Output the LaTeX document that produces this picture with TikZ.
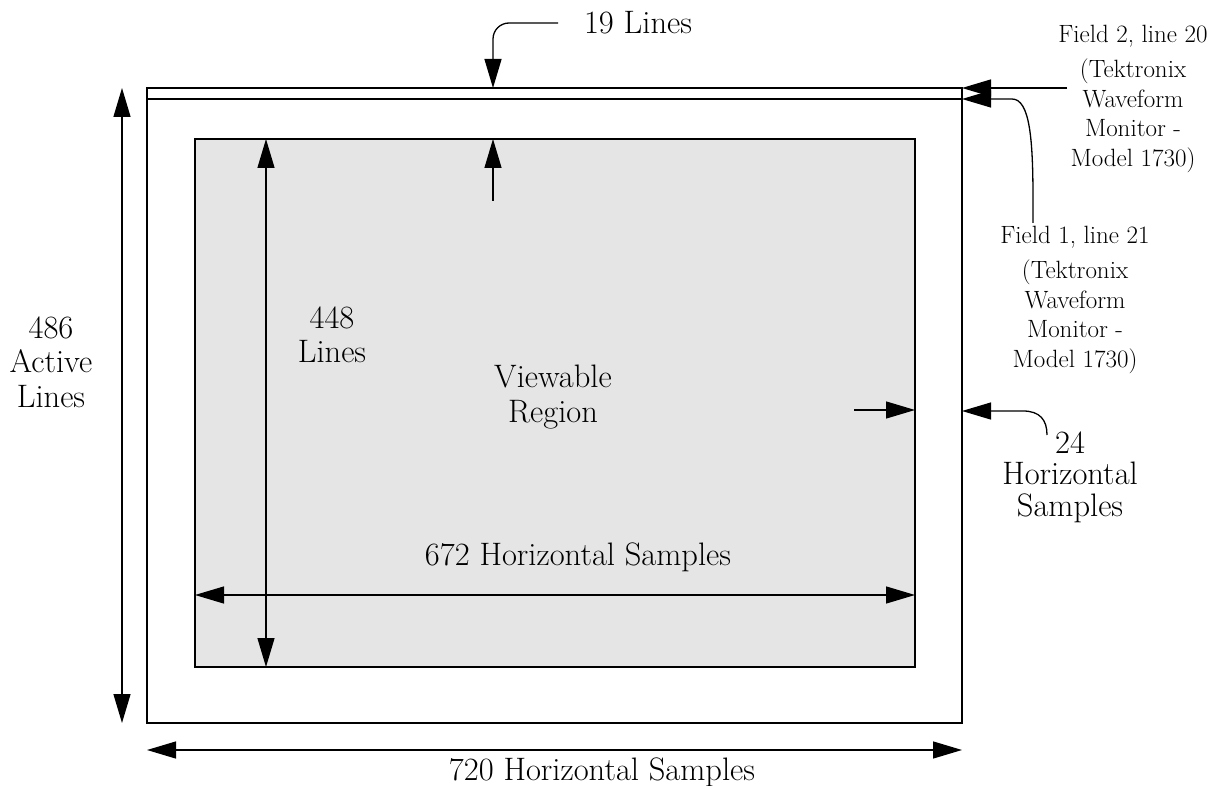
\documentclass[tikz,border=0pt]{standalone}
\usetikzlibrary{arrows.meta}
\tikzset{
  dimarrow/.style={-{Triangle[length=29pt,width=17pt]}, line width=1.3pt},
  dimboth/.style={{Triangle[length=29pt,width=17pt]}-{Triangle[length=29pt,width=17pt]}, line width=1.3pt},
  bigtext/.style={font=\fontsize{32.5}{34.5}\selectfont, align=center, inner sep=0pt},
  smalltext/.style={font=\fontsize{25}{29.5}\selectfont, align=center, inner sep=0pt}
}
\begin{document}
\begin{tikzpicture}[x=1pt, y=-1pt]
      \useasboundingbox (0,0) rectangle (1222,786);
      \node[draw, line width=1.4pt, inner sep=0pt, outer sep=0pt, minimum width=815pt, minimum height=635pt] (frame) at (554.5,405.5) {};
      \node[draw, fill=gray!20, line width=1.3pt, inner sep=0pt, outer sep=0pt, minimum width=720pt, minimum height=528pt] (view) at (555,403) {};
      \draw[line width=2.4pt] (frame.north west) -- (frame.north east);
      \draw[line width=2.4pt] ([yshift=-11pt]frame.north west) -- ([yshift=-11pt]frame.north east);
      % dimension arrows
      \draw[dimboth] ([xshift=-25pt]frame.north west) -- ([xshift=-25pt]frame.south west);
      \draw[dimboth] ([yshift=-27pt]frame.south west) -- ([yshift=-27pt]frame.south east);
      \draw[dimboth] ([xshift=71pt]view.north west) -- ([xshift=71pt]view.south west);
      \draw[dimboth] ([yshift=72pt]view.south west) -- ([yshift=72pt]view.south east);
      \coordinate (vtop) at (493,201);
      \draw[dimarrow] (vtop) -- (vtop |- view.north);
      \coordinate (vright) at (854,410);
      \draw[dimarrow] (vright) -- (vright -| view.east);
      % labels
      \node[bigtext] (lbl19) at (638,23) {19 Lines};
      \node[smalltext] (lblF2) at (1133,99) {Field 2, line 20\\[5.5pt](Tektronix\\Waveform\\Monitor -\\Model 1730)};
      \node[smalltext] (lblF1) at (1075,300) {Field 1, line 21\\[5.5pt](Tektronix\\Waveform\\Monitor -\\Model 1730)};
      \node[bigtext, font=\fontsize{32.5}{31.5}\selectfont] (lbl24) at (1070,477) {24\\Horizontal\\Samples};
      \node[bigtext] (lbl486) at (51,362) {486\\Active\\Lines};
      \node[bigtext] (lbl448) at (332,335) {448\\Lines};
      \node[bigtext] (lblView) at (553,397) {Viewable\\Region};
      \node[bigtext] (lbl672) at (578,557) {672 Horizontal Samples};
      \node[bigtext] (lbl720) at (602,772) {720 Horizontal Samples};
      % callouts
      \coordinate (c19) at (558,23);
      \draw[dimarrow, rounded corners=16pt] (c19) -| (vtop |- frame.north);
      \coordinate (cF2) at (1067,88);
      \draw[dimarrow] (cF2) -- (frame.north east);
      \coordinate (cF1) at (1033,223);
      \draw[dimarrow] (cF1) -- (1033,200) .. controls (1033,140) and (1030,99) .. (1012,99) -- ([yshift=-11pt]frame.north east);
      \coordinate (c24) at (1047,435);
      \draw[dimarrow] (c24) .. controls (1047,420) and (1040,411) .. (1023,411) -- ([yshift=-5.5pt]frame.east);
\end{tikzpicture}
\end{document}
